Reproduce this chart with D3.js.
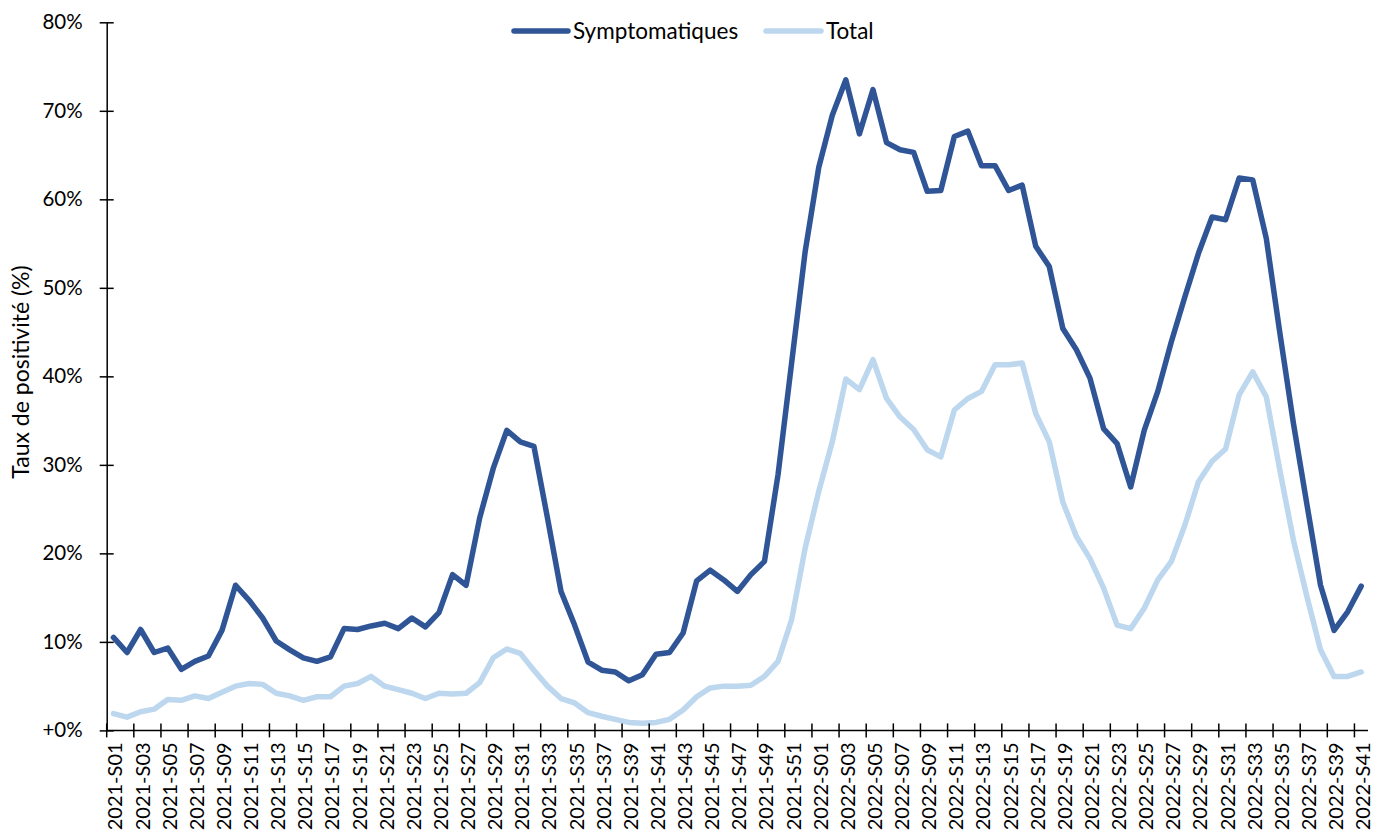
<!DOCTYPE html>
<html><head><meta charset="utf-8">
<script src="https://cdn.jsdelivr.net/npm/d3@7"></script>
<style>body{margin:0;background:#fff} text{font-family:Lato, "Open Sans", sans-serif;fill:#000}</style>
</head><body><svg id="c" width="1377" height="837"></svg>
<script>
const categories = [
"2021-S01","2021-S02","2021-S03","2021-S04","2021-S05","2021-S06","2021-S07","2021-S08","2021-S09","2021-S10",
"2021-S11","2021-S12","2021-S13","2021-S14","2021-S15","2021-S16","2021-S17","2021-S18","2021-S19","2021-S20",
"2021-S21","2021-S22","2021-S23","2021-S24","2021-S25","2021-S26","2021-S27","2021-S28","2021-S29","2021-S30",
"2021-S31","2021-S32","2021-S33","2021-S34","2021-S35","2021-S36","2021-S37","2021-S38","2021-S39","2021-S40",
"2021-S41","2021-S42","2021-S43","2021-S44","2021-S45","2021-S46","2021-S47","2021-S48","2021-S49","2021-S50",
"2021-S51","2021-S52",
"2022-S01","2022-S02","2022-S03","2022-S04","2022-S05","2022-S06","2022-S07","2022-S08","2022-S09","2022-S10",
"2022-S11","2022-S12","2022-S13","2022-S14","2022-S15","2022-S16","2022-S17","2022-S18","2022-S19","2022-S20",
"2022-S21","2022-S22","2022-S23","2022-S24","2022-S25","2022-S26","2022-S27","2022-S28","2022-S29","2022-S30",
"2022-S31","2022-S32","2022-S33","2022-S34","2022-S35","2022-S36","2022-S37","2022-S38","2022-S39","2022-S40",
"2022-S41"];
const symptomatiques = [
10.5, 8.8, 11.4, 8.8, 9.3, 6.9, 7.8, 8.4, 11.3, 16.4, 14.7, 12.7, 10.1, 9.1, 8.2, 7.8, 8.3, 11.5, 11.4, 11.8, 12.1, 11.5, 12.7, 11.7, 13.3, 17.6, 16.4, 24.0, 29.6,
33.9, 32.6, 32.1, 24.0, 15.7, 11.9, 7.7, 6.8, 6.6, 5.6, 6.3, 8.6, 8.8, 11.0, 16.9, 18.1, 17.0, 15.7, 17.6, 19.1,
28.9, 41.5, 54.1, 63.6, 69.5, 73.5, 67.4, 72.4, 66.4, 65.6, 65.3, 60.9, 61.0, 67.1, 67.7, 63.8, 63.8, 61.0, 61.6, 54.7, 52.4,
45.4, 43.0, 39.8, 34.1, 32.4, 27.5, 33.9, 38.3, 43.9, 49.0, 53.9, 58.0, 57.7, 62.4, 62.2, 55.6, 44.9, 34.7, 25.5, 16.4, 11.3, 13.4, 16.3];
const total = [
1.9, 1.5, 2.1, 2.4, 3.5, 3.4, 3.9, 3.6, 4.3, 5.0, 5.3, 5.2, 4.2, 3.9, 3.4, 3.8, 3.8, 5.0, 5.3, 6.1, 5.0, 4.6, 4.2, 3.6, 4.2, 4.1, 4.2, 5.4, 8.2,
9.2, 8.7, 6.8, 5.0, 3.6, 3.1, 2.0, 1.6, 1.25, 0.9, 0.8, 0.9, 1.25, 2.3, 3.8, 4.8, 5.0, 5.0, 5.1, 6.1,
7.8, 12.5, 20.6, 27.0, 32.6, 39.7, 38.5, 41.9, 37.5, 35.4, 34.0, 31.7, 30.9, 36.2, 37.5, 38.3, 41.3, 41.3, 41.5, 35.8, 32.6,
25.8, 21.9, 19.4, 16.1, 11.9, 11.5, 13.8, 17.0, 19.1, 23.2, 28.1, 30.4, 31.8, 37.9, 40.5, 37.7, 29.4, 21.5, 15.1, 9.1, 6.1, 6.1, 6.6];
const yTicks = [0,10,20,30,40,50,60,70,80];
const seriesNames = ["Symptomatiques","Total"];
const colors = ["#2F5597","#BDD7EE"];
const yTitle = "Taux de positivité (%)";

const svg = d3.select("#c");
const L = 106.7, R = 1368, T = 22.3, B = 730.4;
const x = d3.scaleBand().domain(categories).range([L, R]).padding(0);
const y = d3.scaleLinear().domain([0, 80]).range([B, T]);
const cx = c => x(c) + x.bandwidth()/2;

// lines
const line = d3.line().x((d,i)=>cx(categories[i])).y(d=>y(d));
svg.append("path").datum(total).attr("d", line).attr("fill","none")
  .attr("stroke", colors[1]).attr("stroke-width",5.5).attr("stroke-linejoin","round").attr("stroke-linecap","round");
svg.append("path").datum(symptomatiques).attr("d", line).attr("fill","none")
  .attr("stroke", colors[0]).attr("stroke-width",5.5).attr("stroke-linejoin","round").attr("stroke-linecap","round");

// y axis
const ya = svg.append("g").attr("transform",`translate(${L},0)`)
  .call(d3.axisLeft(y).tickValues(yTicks).tickSize(0).tickPadding(24)
  .tickFormat(d => d===0 ? "+0%" : d+"%"));
ya.select(".domain").attr("stroke","#000").attr("stroke-width",1.5);
ya.selectAll(".tick line").attr("x1",-7).attr("x2",7).attr("stroke","#000").attr("stroke-width",1.5);
ya.selectAll(".tick text").attr("font-size",20.5).attr("font-family","Lato").attr("fill","#000");

// x axis
const xa = svg.append("g").attr("transform",`translate(0,${B})`);
xa.append("line").attr("x1",L).attr("x2",R).attr("stroke","#000").attr("stroke-width",1.5);
const even = categories.filter((c,i)=>i%2===0);
xa.selectAll("line.t").data(even).join("line").attr("class","t")
  .attr("x1",c=>x(c)).attr("x2",c=>x(c)).attr("y1",-7).attr("y2",7)
  .attr("stroke","#000").attr("stroke-width",1.5);
xa.selectAll("text").data(even).join("text")
  .attr("transform",c=>`translate(${cx(c)},12) rotate(-90)`)
  .attr("text-anchor","end").attr("dy","0.45em").attr("font-size",20).text(c=>c);

// y title
svg.append("text").attr("transform",`translate(21,372) rotate(-90)`)
  .attr("text-anchor","middle").attr("dy","0.35em").attr("font-size",23).text(yTitle);

// legend
const leg = [{x1:514,x2:568,tx:573},{x1:766,x2:821,tx:826}];
seriesNames.forEach((n,i)=>{
  svg.append("line").attr("x1",leg[i].x1).attr("x2",leg[i].x2).attr("y1",31).attr("y2",31)
    .attr("stroke",colors[i]).attr("stroke-width",5.5).attr("stroke-linecap","round");
  svg.append("text").attr("x",leg[i].tx).attr("y",31).attr("dy","0.35em").attr("font-size",22.5).text(n);
});
</script></body></html>
